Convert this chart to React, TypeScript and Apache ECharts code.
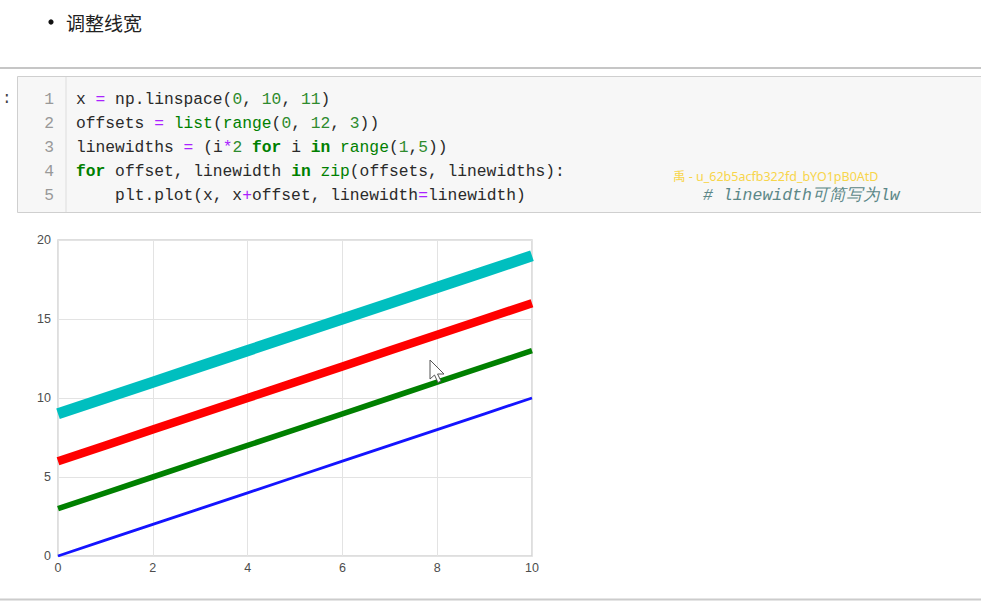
import React, { useEffect, useRef } from "react";
import * as echarts from "echarts";

// ---- data ----
const xValues = [0, 1, 2, 3, 4, 5, 6, 7, 8, 9, 10];
const seriesOffset0 = [0, 1, 2, 3, 4, 5, 6, 7, 8, 9, 10];
const seriesOffset3 = [3, 4, 5, 6, 7, 8, 9, 10, 11, 12, 13];
const seriesOffset6 = [6, 7, 8, 9, 10, 11, 12, 13, 14, 15, 16];
const seriesOffset9 = [9, 10, 11, 12, 13, 14, 15, 16, 17, 18, 19];
const seriesValues = [seriesOffset0, seriesOffset3, seriesOffset6, seriesOffset9];
const seriesNames = ["offset 0", "offset 3", "offset 6", "offset 9"];
const lineWidths = [2.8, 5.6, 8.4, 11.2];
const lineColors = ["#1414ff", "#008000", "#ff0000", "#00bfbf"];

const headingText = "调整线宽";
type Tok = [string, string];
const codeLines: Tok[][] = [
  [["x ", "t"], ["=", "op"], [" np.linspace(", "t"], ["0", "num"], [", ", "t"], ["10", "num"], [", ", "t"], ["11", "num"], [")", "t"]],
  [["offsets ", "t"], ["=", "op"], [" ", "t"], ["list", "bi"], ["(", "t"], ["range", "bi"], ["(", "t"], ["0", "num"], [", ", "t"], ["12", "num"], [", ", "t"], ["3", "num"], ["))", "t"]],
  [["linewidths ", "t"], ["=", "op"], [" (i", "t"], ["*", "op"], ["2", "num"], [" ", "t"], ["for", "kw"], [" i ", "t"], ["in", "kw"], [" ", "t"], ["range", "bi"], ["(", "t"], ["1", "num"], [",", "t"], ["5", "num"], ["))", "t"]],
  [["for", "kw"], [" offset, linewidth ", "t"], ["in", "kw"], [" ", "t"], ["zip", "bi"], ["(offsets, linewidths):", "t"]],
  [["    plt.plot(x, x", "t"], ["+", "op"], ["offset, linewidth", "t"], ["=", "op"], ["linewidth)", "t"]],
];
const commentText = "# linewidth可简写为lw";
const watermarkText = "禹 - u_62b5acfb322fd_bYO1pB0AtD";

const tokColors: Record<string, string> = {
  t: "#2a2a2a",
  op: "#aa22ff",
  num: "#2e8b2e",
  bi: "#008000",
  kw: "#008000",
};

const CODE_FONT = "'Liberation Mono', monospace";
const CODE_SIZE = 16.3;
const CHAR_W = CODE_SIZE * 0.6;
const CODE_X = 76;
const LINE_Y0 = 99;
const LINE_H = 24.2;

function buildGraphics() {
  const g: any[] = [];
  // heading
  g.push({ type: "circle", shape: { cx: 51, cy: 22, r: 2.6 }, style: { fill: "#111" }, silent: true });
  g.push({
    type: "text", x: 66, y: 22,
    style: { text: headingText, fontSize: 19, fontFamily: "'Noto Sans CJK SC', sans-serif", fill: "#222", verticalAlign: "middle" },
  });
  // separators
  g.push({ type: "rect", shape: { x: 0, y: 67, width: 981, height: 2 }, style: { fill: "#c6c6c6" } });
  g.push({ type: "rect", shape: { x: 0, y: 598.5, width: 981, height: 2 }, style: { fill: "#cccccc" } });
  // prompt colon
  g.push({ type: "text", x: 2, y: LINE_Y0, style: { text: ":", fontSize: 16, fontFamily: CODE_FONT, fill: "#444", verticalAlign: "middle" } });
  // cell box
  g.push({ type: "rect", shape: { x: 17.5, y: 76.5, width: 975, height: 136 }, style: { fill: "#f7f7f7", stroke: "#cfcfcf", lineWidth: 1 } });
  g.push({ type: "line", shape: { x1: 66, y1: 77, x2: 66, y2: 212 }, style: { stroke: "#dddddd", lineWidth: 1 } });
  // code
  codeLines.forEach((line, li) => {
    const y = LINE_Y0 + li * LINE_H;
    g.push({
      type: "text", x: 54, y,
      style: { text: String(li + 1), fontSize: CODE_SIZE, fontFamily: CODE_FONT, fill: "#999", align: "right", verticalAlign: "middle" },
    });
    let col = 0;
    line.forEach(([txt, cls]) => {
      const lead = txt.length - txt.replace(/^ +/, "").length;
      const trimmed = txt.trim();
      if (trimmed.length > 0) {
        g.push({
          type: "text", x: CODE_X + (col + lead) * CHAR_W, y,
          style: {
            text: trimmed, fontSize: CODE_SIZE, fontFamily: CODE_FONT, fill: tokColors[cls],
            fontWeight: cls === "kw" ? "bold" : "normal", verticalAlign: "middle",
          },
        });
      }
      col += txt.length;
    });
  });
  // watermark & comment
  g.push({
    type: "text", x: 673, y: 176.5,
    style: { text: watermarkText, fontSize: 12.5, fontFamily: "'Noto Sans', 'Noto Sans CJK SC', sans-serif", fill: "#f7d54a", verticalAlign: "middle" },
  });
  g.push({
    type: "text", x: 703, y: 195,
    style: { text: commentText, fontSize: 16.5, fontStyle: "italic", fontFamily: CODE_FONT, fill: "#5b8787", verticalAlign: "middle" },
  });
  // mouse cursor
  g.push({
    type: "polygon", z: 100,
    shape: { points: [[430, 360], [430, 379], [434.5, 375], [438, 382.5], [441, 381], [437.5, 374], [444, 374]] },
    style: { fill: "#ffffff", stroke: "#555555", lineWidth: 1 },
  });
  return g;
}

export default function App() {
  const ref = useRef<HTMLDivElement>(null);
  useEffect(() => {
    if (!ref.current) return;
    const chart = echarts.init(ref.current, null, { renderer: "svg" });
    const axisLabel = { color: "#4d4d4d", fontSize: 12.5, fontFamily: "'Liberation Sans', Arial, sans-serif" };
    chart.setOption({
      animation: false,
      backgroundColor: "#ffffff",
      grid: {
        left: 58, top: 240, width: 474, height: 316,
        show: true, backgroundColor: "#ffffff", borderColor: "#d4d4d4", borderWidth: 1.5,
      },
      xAxis: {
        type: "value", min: 0, max: 10, interval: 2,
        axisLine: { show: false }, axisTick: { show: false },
        splitLine: { show: true, lineStyle: { color: "#e3e3e3", width: 1 } },
        axisLabel: { ...axisLabel, margin: 5 },
      },
      yAxis: {
        type: "value", min: 0, max: 20, interval: 5,
        axisLine: { show: false }, axisTick: { show: false },
        splitLine: { show: true, lineStyle: { color: "#e3e3e3", width: 1 } },
        axisLabel: { ...axisLabel, margin: 7 },
      },
      series: seriesValues.map((vals, i) => ({
        type: "line",
        name: seriesNames[i],
        data: vals.map((v, j) => [xValues[j], v]),
        symbol: "none",
        clip: true,
        lineStyle: { width: lineWidths[i], color: lineColors[i], cap: "butt" },
        z: 2 + i,
      })),
      graphic: buildGraphics(),
    });
    return () => chart.dispose();
  }, []);
  return (
    <div
      ref={ref}
      style={{ position: "fixed", left: 0, top: 0, width: 981, height: 601, background: "#fff" }}
    />
  );
}
